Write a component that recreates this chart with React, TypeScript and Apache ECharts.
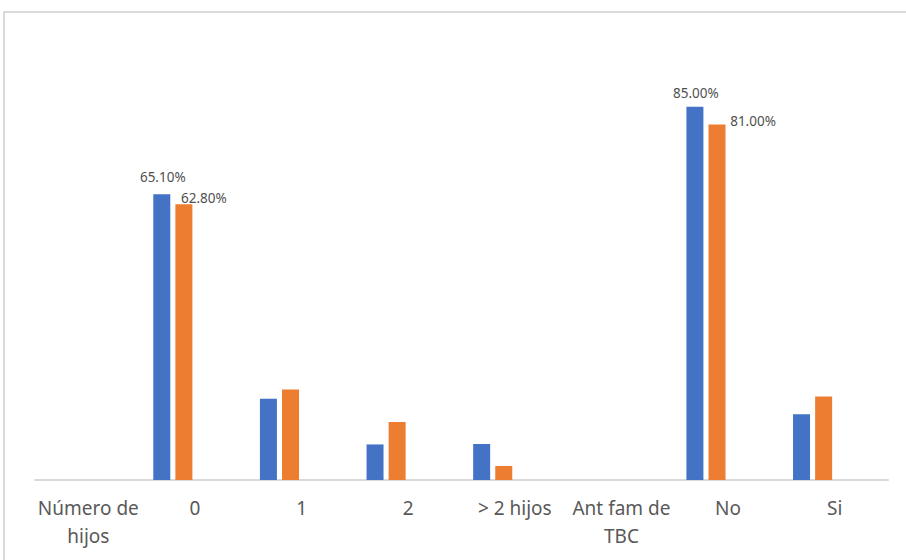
import React, { useEffect, useRef } from "react";
import * as echarts from "echarts";

const categories = ["Número de\nhijos", "0", "1", "2", "> 2 hijos", "Ant fam de\nTBC", "No", "Si"];
const seriesA = [null, 65.1, 18.5, 8.1, 8.2, null, 85.0, 15.0];
const seriesB = [null, 62.8, 20.6, 13.2, 3.2, null, 81.0, 19.0];
const labeledA = [1, 6];
const labeledB = [1, 6];

const fmt = (p: any) => Number(p.value).toFixed(2) + "%";

export default function App() {
  const ref = useRef<HTMLDivElement>(null);
  useEffect(() => {
    document.body.style.margin = "0";
    const chart = echarts.init(ref.current!, null, { renderer: "svg" });
    const labelBase = {
      fontFamily: "Noto Sans",
      fontSize: 13.5,
      color: "#505050",
      formatter: fmt,
    };
    const dataA = seriesA.map((v, i) => {
      if (!labeledA.includes(i)) return v;
      return {
        value: v,
        label: {
          show: true,
          position: "top",
          distance: i === 1 ? 10 : 7,
          offset: [1, 0],
          ...labelBase,
        },
      };
    });
    const dataB = seriesB.map((v, i) => {
      if (!labeledB.includes(i)) return v;
      return {
        value: v,
        label: {
          show: true,
          position: "top",
          distance: 0,
          offset: i === 1 ? [20, 1] : [36, 4],
          ...labelBase,
        },
      };
    });
    const empty = categories.map(() => null);
    chart.setOption({
      animation: false,
      backgroundColor: "#ffffff",
      graphic: [
        {
          type: "rect",
          shape: { x: 4, y: 12, width: 1000, height: 700 },
          style: { fill: "none", stroke: "#d9d9d9", lineWidth: 2 },
          silent: true,
        },
      ],
      grid: { left: 35, right: 18, top: 41, bottom: 80 },
      xAxis: {
        type: "category",
        data: categories,
        axisTick: { show: false },
        axisLine: { lineStyle: { color: "#d9d9d9", width: 2 } },
        axisLabel: {
          interval: 0,
          fontFamily: "Noto Sans",
          fontSize: 19,
          color: "#595959",
          lineHeight: 28,
          margin: 14,
        },
      },
      yAxis: {
        type: "value",
        min: 0,
        max: 100,
        show: false,
        splitLine: { show: false },
      },
      series: [
        { type: "bar", data: dataA, barWidth: 17, barGap: "30%", itemStyle: { color: "#4472C4" } },
        { type: "bar", data: dataB, barWidth: 17, barGap: "30%", itemStyle: { color: "#ED7D31" } },
        { type: "bar", data: empty, barWidth: 17, barGap: "30%", itemStyle: { color: "#A5A5A5" } },
        { type: "bar", data: empty, barWidth: 17, barGap: "30%", itemStyle: { color: "#FFC000" } },
      ],
    });
    return () => chart.dispose();
  }, []);
  return (
    <div
      ref={ref}
      style={{ position: "absolute", left: 0, top: 0, width: 906, height: 560 }}
    />
  );
}
